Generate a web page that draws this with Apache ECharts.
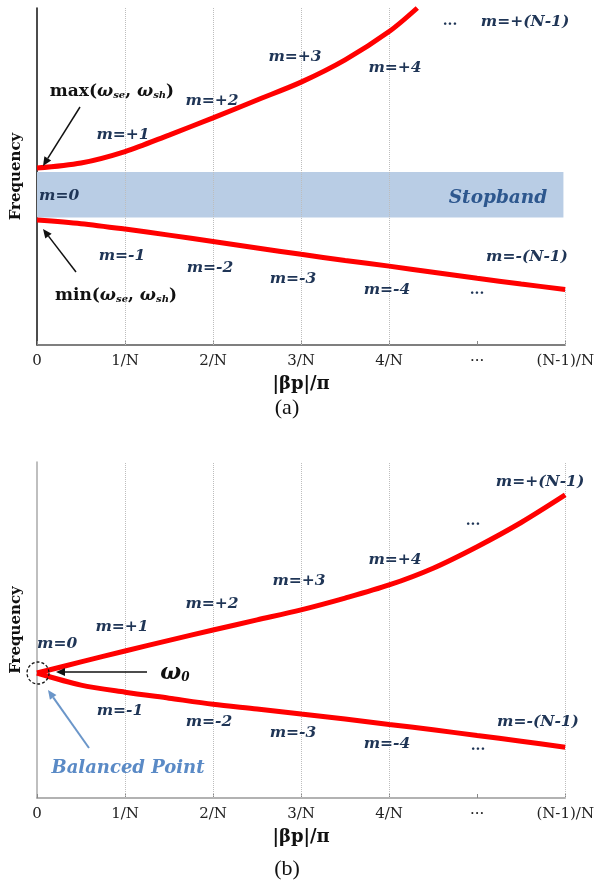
<!DOCTYPE html>
<html>
<head>
<meta charset="utf-8">
<script src="https://cdn.jsdelivr.net/npm/echarts@6/dist/echarts.min.js"></script>
<style>
  html, body { margin: 0; padding: 0; background: #fff; }
  #main { width: 597px; height: 888px; }
</style>
</head>
<body>
<div id="main"></div>
<script>
// tick labels along |βp|/π
const xTicks = ['0', '1/N', '2/N', '3/N', '4/N', '···', '(N-1)/N'];

// panel (a): band edges with a stopband between them
const upperAx = [0, 0.5, 1, 1.5, 2, 2.5, 3, 3.5, 4, 4.32];
const upperAy = [5.25, 5.4, 5.74, 6.23, 6.74, 7.27, 7.8, 8.46, 9.3, 10];
const lowerAx = [0, 0.5, 1, 1.5, 2, 2.5, 3, 3.5, 4, 4.5, 5, 5.5, 6];
const lowerAy = [3.71, 3.6, 3.44, 3.26, 3.07, 2.88, 2.69, 2.51, 2.34, 2.16, 1.98, 1.81, 1.65];
const stopband = [3.78, 5.13];
const stopbandX = [0, 5.98];

// panel (b): balanced case, both bands meet at omega0
const upperBx = [0, 0.5, 1, 1.5, 2, 2.5, 3, 3.5, 4, 4.5, 5, 5.5, 6];
const upperBy = [3.72, 4.05, 4.375, 4.69, 5.0, 5.3, 5.6, 5.95, 6.34, 6.84, 7.48, 8.2, 9.02];
const lowerBx = [0, 0.5, 1, 1.5, 2, 2.5, 3, 3.5, 4, 4.5, 5, 5.5, 6];
const lowerBy = [3.72, 3.36, 3.15, 2.97, 2.79, 2.65, 2.5, 2.35, 2.19, 2.03, 1.86, 1.69, 1.51];

const gridXs = [1, 2, 3, 4];

const pairs = (xs, ys) => xs.map((x, i) => [x, ys[i]]);

const navy = '#1f3556';
const serif = '"DejaVu Serif", serif';
const mFont = 'italic bold 15.5px ' + serif;

function xAxisFor(gi, lineColor) {
  return {
    type: 'value', gridIndex: gi, min: 0, max: 6, interval: 1,
    axisLine: { show: true, lineStyle: { color: lineColor, width: 1.5 } },
    axisTick: { show: true, inside: true, length: 4, lineStyle: { color: '#888' } },
    splitLine: { show: false },
    axisLabel: {
      formatter: v => xTicks[v], fontFamily: serif, fontSize: 15, color: '#222', margin: 9
    },
    name: '|βp|/π', nameLocation: 'middle', nameGap: 30,
    nameTextStyle: { fontFamily: serif, fontWeight: 'bold', fontSize: 18, color: '#111' }
  };
}
function yAxisFor(gi, lineColor) {
  return {
    type: 'value', gridIndex: gi, min: 0, max: 10,
    axisLine: { show: true, lineStyle: { color: lineColor, width: 1.5 } },
    axisTick: { show: false }, axisLabel: { show: false }, splitLine: { show: false },
    name: 'Frequency', nameLocation: 'middle', nameGap: 13,
    nameTextStyle: { fontFamily: serif, fontWeight: 'bold', fontSize: 15, color: '#111' }
  };
}
const gridMarks = (extra) => ({
  silent: true, symbol: ['none', 'none'], label: { show: false },
  lineStyle: { color: '#bdbdbd', type: 'dotted', width: 1 },
  data: gridXs.map(v => ({ xAxis: v })).concat(extra)
});
const curve = (data, xi, yi) => ({
  type: 'line', xAxisIndex: xi, yAxisIndex: yi, data: data, smooth: 0.3,
  showSymbol: false, lineStyle: { color: '#ff0000', width: 5 }, z: 5
});

function txt(text, x, y, font, fill, align) {
  return { type: 'text', x: x, y: y, z: 20,
    style: { text: text, font: font, fill: fill, align: align || 'center', verticalAlign: 'middle' } };
}
function arrow(x1, y1, x2, y2, color, w) {
  const a = Math.atan2(y2 - y1, x2 - x1), L = 9, H = 4;
  const bx = x2 - L * Math.cos(a), by = y2 - L * Math.sin(a);
  return [
    { type: 'line', z: 20, shape: { x1: x1, y1: y1, x2: bx, y2: by }, style: { stroke: color, lineWidth: w } },
    { type: 'polygon', z: 20, shape: { points: [[x2, y2],
      [bx + H * Math.sin(a), by - H * Math.cos(a)], [bx - H * Math.sin(a), by + H * Math.cos(a)]] },
      style: { fill: color } }
  ];
}
const wRich = {
  a: { fontFamily: serif, fontWeight: 'bold', fontSize: 17, fill: '#111' },
  w: { fontFamily: serif, fontWeight: 'bold', fontStyle: 'italic', fontSize: 17, fill: '#111' },
  s: { fontFamily: serif, fontWeight: 'bold', fontStyle: 'italic', fontSize: 10, fill: '#111', verticalAlign: 'bottom', padding: [6, 0, 0, 0] }
};
function omegaText(fn, x, y) {
  return { type: 'text', x: x, y: y, z: 20,
    style: { text: '{a|' + fn + '(}{w|ω}{s|se}{a|, }{w|ω}{s|sh}{a|)}', rich: wRich, align: 'center', verticalAlign: 'middle' } };
}

const labelsA = [
  ['m=+1', 123, 135], ['m=+2', 212, 101], ['m=+3', 295, 57], ['m=+4', 395, 68],
  ['m=+(N-1)', 525, 22], ['m=-1', 122, 256], ['m=-2', 210, 268], ['m=-3', 293, 279],
  ['m=-4', 387, 290], ['m=-(N-1)', 527, 257]
];
const labelsB = [
  ['m=+1', 122, 627], ['m=+2', 212, 604], ['m=+3', 299, 581], ['m=+4', 395, 560],
  ['m=+(N-1)', 540, 482], ['m=-1', 120, 711], ['m=-2', 209, 722], ['m=-3', 293, 733],
  ['m=-4', 387, 744], ['m=-(N-1)', 538, 722]
];

let graphics = [];
labelsA.concat(labelsB).forEach(l => graphics.push(txt(l[0], l[1], l[2], mFont, navy)));
graphics.push(txt('m=0', 39, 196, mFont, navy, 'left'));
graphics.push(txt('m=0', 37, 644, mFont, navy, 'left'));
graphics.push(txt('···', 450, 25, 'bold 14px ' + serif, navy));
graphics.push(txt('···', 477, 294, 'bold 14px ' + serif, navy));
graphics.push(txt('···', 473, 525, 'bold 14px ' + serif, navy));
graphics.push(txt('···', 478, 750, 'bold 14px ' + serif, navy));
graphics.push(txt('Stopband', 498, 198, 'italic bold 18.5px ' + serif, '#2d578e'));
graphics.push(omegaText('max', 112, 92));
graphics.push(omegaText('min', 116, 296));
graphics = graphics.concat(arrow(80, 107, 43, 166, '#111', 1.5));
graphics = graphics.concat(arrow(76, 272, 43, 229, '#111', 1.5));
graphics.push({ type: 'text', x: 175, y: 673, z: 20, style: {
  text: '{w|ω}{s|0}', align: 'center', verticalAlign: 'middle',
  rich: { w: { fontFamily: serif, fontWeight: 'bold', fontStyle: 'italic', fontSize: 22, fill: '#111' },
          s: { fontFamily: serif, fontWeight: 'bold', fontStyle: 'italic', fontSize: 12, fill: '#111', verticalAlign: 'bottom', padding: [7, 0, 0, 0] } } } });
graphics = graphics.concat(arrow(147, 672, 56, 672, '#111', 1.5));
graphics.push({ type: 'circle', z: 20, shape: { cx: 38, cy: 673, r: 11 },
  style: { fill: 'none', stroke: '#111', lineWidth: 1.3, lineDash: [3, 2] } });
graphics = graphics.concat(arrow(89, 748, 48, 690, '#6b96c9', 2));
graphics.push(txt('Balanced Point', 128, 768, 'italic bold 18px ' + serif, '#5a8ac6'));
graphics.push(txt('(a)', 287, 408, '22px "Liberation Serif", serif', '#111'));
graphics.push(txt('(b)', 287, 869, '22px "Liberation Serif", serif', '#111'));

const chart = echarts.init(document.getElementById('main'));
chart.setOption({
  animation: false,
  backgroundColor: '#fff',
  grid: [
    { left: 37, top: 8, width: 529, height: 337 },
    { left: 37, top: 462, width: 529, height: 336 }
  ],
  xAxis: [xAxisFor(0, '#555'), xAxisFor(1, '#999')],
  yAxis: [yAxisFor(0, '#111'), yAxisFor(1, '#aaa')],
  series: [
    {
      type: 'line', xAxisIndex: 0, yAxisIndex: 0, data: [], z: 1,
      markLine: gridMarks([[{ coord: [6, 0] }, { coord: [6, lowerAy[lowerAy.length - 1]] }]]),
      markArea: {
        silent: true, itemStyle: { color: '#b9cde5' },
        data: [[{ coord: [stopbandX[0], stopband[0]] }, { coord: [stopbandX[1], stopband[1]] }]]
      }
    },
    curve(pairs(upperAx, upperAy), 0, 0),
    curve(pairs(lowerAx, lowerAy), 0, 0),
    {
      type: 'line', xAxisIndex: 1, yAxisIndex: 1, data: [], z: 1,
      markLine: gridMarks([{ xAxis: 6 }])
    },
    curve(pairs(upperBx, upperBy), 1, 1),
    curve(pairs(lowerBx, lowerBy), 1, 1)
  ],
  graphic: graphics
});
</script>
</body>
</html>
